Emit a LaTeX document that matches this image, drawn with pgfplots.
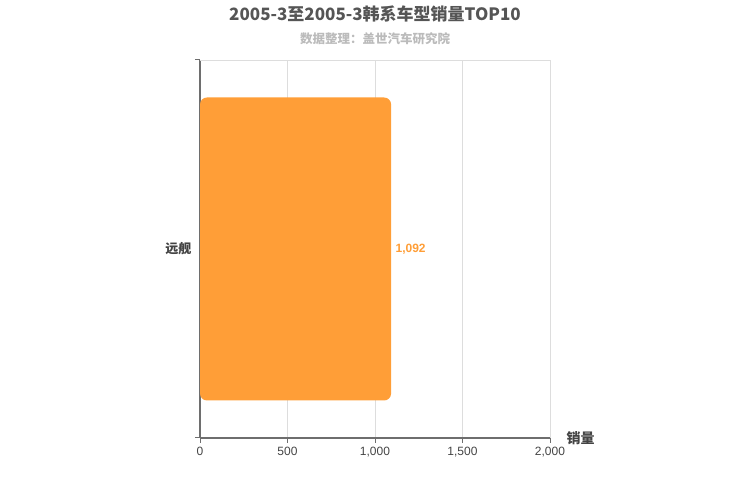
\documentclass[border=0pt]{standalone}
\usepackage{fontspec}
\setmainfont{Liberation Sans}
\newfontfamily\cjk{Noto Sans CJK SC}
\usepackage{pgfplots}
\pgfplotsset{compat=1.18}

\definecolor{barorange}{HTML}{FF9E37}
\definecolor{titlegray}{HTML}{555555}
\definecolor{subgray}{HTML}{BBBBBB}
\definecolor{axisgray}{HTML}{6E6E6E}
\definecolor{gridgray}{HTML}{DDDDDD}
\definecolor{labelgray}{HTML}{444444}

\begin{document}
\begin{tikzpicture}[x=1pt,y=1pt]
\useasboundingbox (0,0) rectangle (750,500);
\node[font=\cjk\bfseries\fontsize{17}{20}\selectfont, text=titlegray] at (375,486) {2005-3至2005-3韩系车型销量TOP10};
\node[font=\cjk\bfseries\fontsize{12.5}{14}\selectfont, text=subgray] at (375,461) {数据整理：盖世汽车研究院};
\begin{axis}[
    at={(200pt,62pt)}, anchor=south west,
    scale only axis, width=350pt, height=378pt,
    xbar, bar width=303pt,
    xmin=0, xmax=2000, ymin=-0.5, ymax=0.5,
    xtick={0,500,1000,1500,2000},
    ytick={-0.5,0.5}, yticklabels={},
    extra y ticks={0}, extra y tick labels={\cjk\bfseries 远舰},
    extra y tick style={tick style={draw=none}, y tick label style={font=\fontsize{13}{15}\selectfont, text=labelgray}},
    tick style={draw=axisgray, line width=1pt},
    x tick label style={font=\fontsize{12}{14}\selectfont, text=labelgray, yshift=-1pt},
    major tick length=5pt,
    tick align=outside,
    axis x line*=bottom, axis y line*=left,
    axis line style={draw=axisgray, line width=1.2pt, -},
    xmajorgrids, grid style={draw=gridgray, line width=0.8pt},
    /pgf/number format/1000 sep={,},
    /pgf/number format/assume math mode=true,
    xlabel={\cjk\bfseries 销量},
    xlabel style={at={(rel axis cs:1,0)}, anchor=west, xshift=13pt, yshift=0pt, font=\fontsize{14}{16}\selectfont, text=labelgray},
    nodes near coords,
    nodes near coords style={font=\bfseries\fontsize{12}{14}\selectfont, text=barorange, anchor=west, xshift=1pt,
        /pgf/number format/1000 sep={,}, /pgf/number format/assume math mode=true},
    clip=false,
]
\draw[gridgray, line width=0.8pt] (rel axis cs:0,1) -- (rel axis cs:1,1);
\addplot[fill=barorange, draw=none, rounded corners=7pt] coordinates {(1092,0)};
\end{axis}
\end{tikzpicture}
\end{document}
